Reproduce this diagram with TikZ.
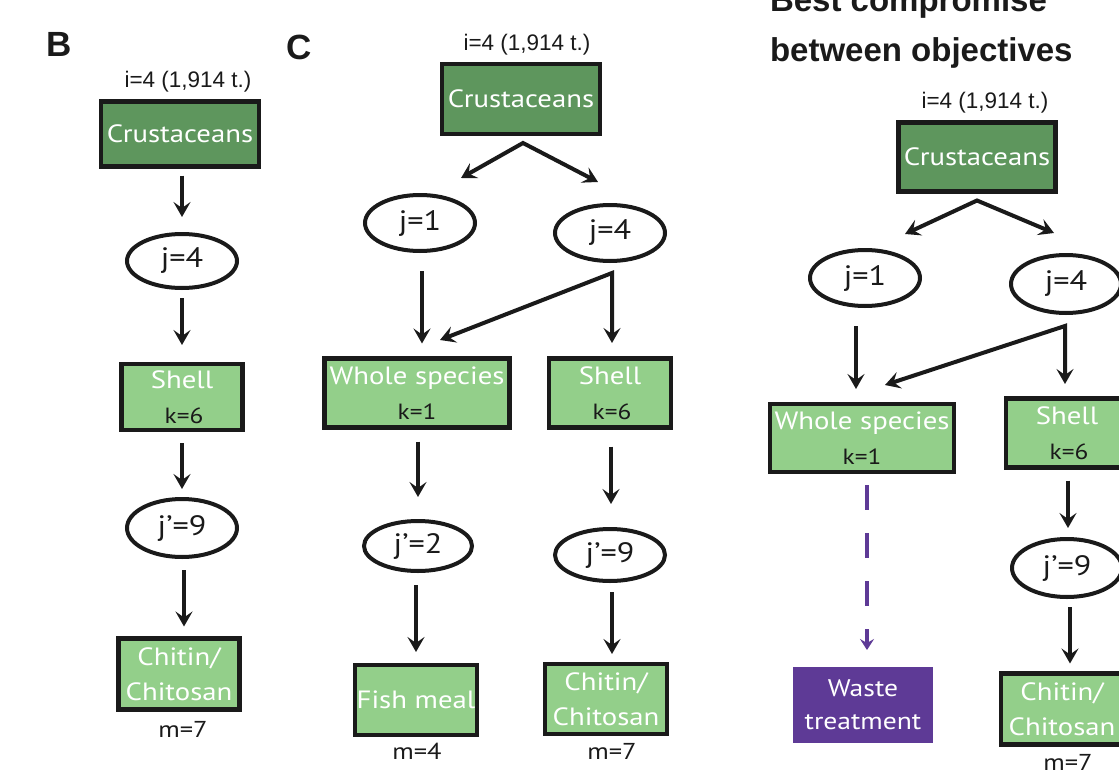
\documentclass[tikz,border=0pt]{standalone}
\usepackage{fontspec}
\setmainfont{PT Sans}[FakeStretch=1.15]
\newfontfamily\arialfam{Liberation Sans}
\usetikzlibrary{arrows.meta,shapes.geometric}

\definecolor{darkgr}{HTML}{5E965D}
\definecolor{lightgr}{HTML}{93CF8A}
\definecolor{wastepurple}{HTML}{5E3A96}
\definecolor{inkblack}{HTML}{1A1A1A}

% smaller type for the k= lines inside the product boxes
\newcommand\kvfont{\fontsize{22}{35}\selectfont}

\tikzset{
  every node/.style={inner sep=0pt, outer sep=0pt},
  lbl/.style={font=\arialfam\fontsize{22.5}{26}\selectfont, text=inkblack},
  bottomlbl/.style={font=\fontsize{23}{26}\selectfont, text=inkblack},
  panel/.style={font=\arialfam\bfseries\fontsize{35}{40}\selectfont, text=inkblack},
  heading/.style={font=\arialfam\bfseries\fontsize{33}{40}\selectfont, text=inkblack, anchor=base west},
  srcbox/.style={rectangle, draw=inkblack, line width=4.5pt, fill=darkgr, text=white,
    font=\fontsize{25}{30}\selectfont},
  prodbox/.style={rectangle, draw=inkblack, line width=4.5pt, fill=lightgr, text=inkblack,
    align=center, font=\fontsize{25}{35}\selectfont},
  wastebox/.style={rectangle, fill=wastepurple, text=white,
    align=center, font=\fontsize{24}{33}\selectfont},
  oval/.style={ellipse, draw=inkblack, line width=4pt, fill=white, text=inkblack,
    font=\fontsize{28}{30}\selectfont},
  bigtip/.tip={Stealth[length=15pt,width=17pt,inset=6pt]},
  arr/.style={draw=inkblack, line width=4pt, -bigtip},
  arrV/.style={draw=inkblack, line width=4pt, line join=miter, bigtip-bigtip},
  dasharr/.style={draw=wastepurple, line width=4pt, dash pattern=on 25pt off 23pt,
    -{Stealth[length=11pt,width=14pt,inset=4pt]}},
}

\begin{document}
\begin{tikzpicture}[x=1pt,y=-1pt]
\clip (0,0) rectangle (1119,776);
\fill[white] (0,0) rectangle (1119,776);

% ---------------- panel B ----------------
\node[panel] (letB) at (59,44) {B};
\node[lbl] (iB) at (188,82) {i=4 (1,914 t.)};
\node[srcbox, minimum width=158, minimum height=65] (cB) at (180,134) {Crustaceans};
\node[oval, minimum width=110, minimum height=54] (jB1) at (182,261) {j=4};
\node[prodbox, minimum width=121, minimum height=66] (sB) at (182,397) {{\color{white}Shell}\\\hspace*{4pt}{\kvfont k=6}};
\node[oval, minimum width=110, minimum height=58] (jB2) at (182,528) {j’=9};
\node[prodbox, text=white, minimum width=121, minimum height=71] (chB) at (179,674) {Chitin/\\Chitosan};
\node[bottomlbl] (mB) at (183,729) {m=7};

\draw[arr] ([yshift=-9pt]cB.south -| jB1) -- ([yshift=17pt]jB1.north);
\draw[arr] ([yshift=-10pt]jB1.south) -- ([yshift=19pt]sB.north);
\draw[arr] ([yshift=-13pt]sB.south) -- ([yshift=10pt]jB2.north);
\draw[arr] ([xshift=2pt,yshift=-13pt]jB2.south) -- ([xshift=2pt,yshift=12pt]jB2.south |- chB.north);

% ---------------- panel C ----------------
\node[panel] (letC) at (299,47) {C};
\node[lbl] (iC) at (527,45) {i=4 (1,914 t.)};
\node[srcbox, minimum width=158, minimum height=70] (cC) at (521,99) {Crustaceans};
\node[oval, minimum width=110, minimum height=56] (jC1) at (420,223) {j=1};
\node[oval, minimum width=110, minimum height=56] (jC4) at (610,233) {j=4};
\node[prodbox, minimum width=185, minimum height=69] (wC) at (417,393) {{\color{white}Whole species}\\{\kvfont k=1}};
\node[prodbox, minimum width=122, minimum height=69] (sC) at (610,393) {{\color{white}Shell}\\\hspace*{4pt}{\kvfont k=6}};
\node[oval, minimum width=108, minimum height=50] (jC2) at (418,546) {j’=2};
\node[oval, minimum width=110, minimum height=52] (jC9) at (610,555) {j’=9};
\node[prodbox, text=white, minimum width=122, minimum height=70] (fC) at (416,700) {Fish meal};
\node[prodbox, text=white, minimum width=122, minimum height=70] (chC) at (606,699) {Chitin/\\Chitosan};
\node[bottomlbl] (m4C) at (417,751) {m=4};
\node[bottomlbl] (m7C) at (612,751) {m=7};

\coordinate (apC) at ([xshift=2pt,yshift=-9pt]cC.south);
\coordinate (tC1) at (461,178);
\coordinate (tC4) at (598,182);
\draw[arrV] (tC1) -- (apC) -- (tC4);

\draw[arr] ([xshift=2pt,yshift=-20pt]jC1.south) -- ([xshift=2pt,yshift=15pt]jC1.south |- wC.north);
\coordinate (jnC) at ([xshift=2pt,yshift=-12pt]jC4.south);
\coordinate (tCw) at (440,340);
\coordinate (tCs) at ([yshift=-70pt]jnC);
\draw[arrV] (tCw) -- (jnC) -- (tCs);

\draw[arr] ([xshift=1pt,yshift=-14pt]wC.south) -- ([xshift=1pt,yshift=24pt]wC.south |- jC2.north);
\draw[arr] ([xshift=1pt,yshift=-19pt]sC.south) -- ([xshift=1pt,yshift=25pt]sC.south |- jC9.north);
\draw[arr] ([xshift=-2pt,yshift=-14pt]jC2.south) -- ([xshift=-2pt,yshift=13pt]jC2.south |- fC.north);
\draw[arr] ([xshift=2pt,yshift=-11pt]jC9.south) -- ([xshift=2pt,yshift=10pt]jC9.south |- chC.north);

% ---------------- best compromise ----------------
\node[heading] (hd1) at (770,12) {Best compromise};
\node[heading] (hd2) at (770,62) {between objectives};
\node[lbl] (iD) at (985,103) {i=4 (1,914 t.)};
\node[srcbox, minimum width=157, minimum height=69] (cD) at (977,157) {Crustaceans};
\node[oval, minimum width=110, minimum height=56] (jD1) at (865,278) {j=1};
\node[oval, minimum width=110, minimum height=58] (jD4) at (1066,284) {j=4};
\node[prodbox, minimum width=184, minimum height=68] (wD) at (862,438) {{\color{white}Whole species}\\{\kvfont k=1}};
\node[prodbox, minimum width=122, minimum height=69] (sD) at (1067,433) {{\color{white}Shell}\\\hspace*{4pt}{\kvfont k=6}};
\node[wastebox, minimum width=140, minimum height=76] (wtD) at (863,705) {Waste\\treatment};
\node[oval, minimum width=110, minimum height=58] (jD9) at (1067,568) {j’=9};
\node[prodbox, text=white, minimum width=122, minimum height=71] (chD) at (1062,709) {Chitin/\\Chitosan};
\node[bottomlbl] (mD) at (1068,762) {m=7};

\coordinate (apD) at ([yshift=-9pt]cD.south);
\coordinate (tD1) at (905,234);
\coordinate (tD4) at (1054,233);
\draw[arrV] (tD1) -- (apD) -- (tD4);

\draw[arr] ([xshift=-9pt,yshift=-20pt]jD1.south) -- ([xshift=-9pt,yshift=15pt]jD1.south |- wD.north);
\coordinate (jnD) at ([xshift=-1pt,yshift=-13pt]jD4.south);
\coordinate (tDw) at (885,385);
\coordinate (tDs) at ([yshift=-58pt]jnD);
\draw[arrV] (tDw) -- (jnD) -- (tDs);

\draw[dasharr] ([xshift=5pt,yshift=-13pt]wD.south) -- ([xshift=5pt,yshift=17pt]wD.south |- wtD.north);
\draw[arr] ([xshift=1pt,yshift=-13pt]sD.south) -- ([xshift=1pt,yshift=11pt]sD.south |- jD9.north);
\draw[arr] ([xshift=3pt,yshift=-10pt]jD9.south) -- ([xshift=3pt,yshift=10pt]jD9.south |- chD.north);
\end{tikzpicture}
\end{document}
